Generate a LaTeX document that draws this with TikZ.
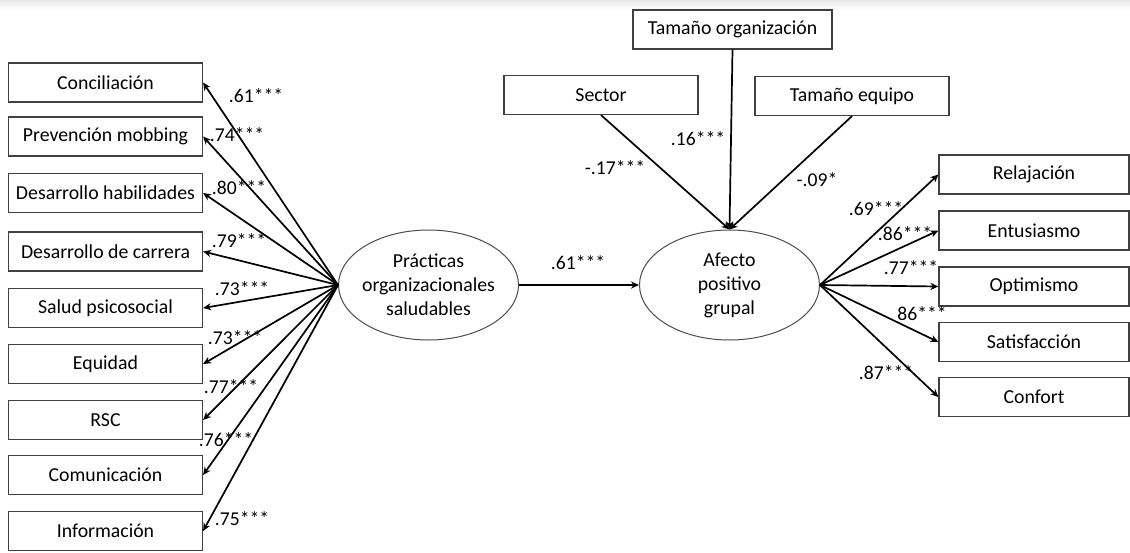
\documentclass[tikz,border=0pt]{standalone}
\usepackage{fontspec}
\setmainfont{Carlito}
\usetikzlibrary{arrows.meta,shapes.geometric,positioning}

\begin{document}
\begin{tikzpicture}[x=0.5pt, y=-0.5pt,
    box/.style={draw=black!75, line width=0.6pt, minimum width=97pt, minimum height=19.5pt, inner sep=0pt, align=center, font=\fontsize{9.9}{12}\selectfont},
    lat/.style={draw=black!70, ellipse, line width=0.5pt, minimum width=90pt, minimum height=55pt, inner xsep=-14pt, inner ysep=0pt, align=center, font=\fontsize{9.9}{12}\selectfont},
    arr/.style={-{Stealth[length=4pt, width=3.6pt]}, line width=0.85pt},
    lbl/.style={font=\fontsize{9.8}{11}\selectfont, inner sep=0pt}
]
\useasboundingbox (0,0) rectangle (1130,552);
\shade[top color=black!9, bottom color=white] (0,0) rectangle (1130,10);

% indicadores
\node[box] (conc) at (105.5,82.5) {Conciliación};
\node[box] (prev) at (105.5,136.5) {Prevención mobbing};
\node[box] (habil) at (105.5,193) {Desarrollo habilidades};
\node[box] (carr) at (105.5,251.5) {Desarrollo de carrera};
\node[box] (salud) at (105.5,308) {Salud psicosocial};
\node[box] (equi) at (105.5,364) {Equidad};
\node[box] (rsc) at (105.5,420) {RSC};
\node[box] (comu) at (105.5,475) {Comunicación};
\node[box] (info) at (105.5,531) {Información};

\node[lat] (pos) at (428.5,285) {Prácticas\\organizacionales\\saludables};
\node[lat] (apg) at (729.5,285) {Afecto\\positivo\\grupal};

% controles
\node[box, minimum width=99.5pt] (torg) at (732.5,29.5) {Tamaño organización};
\node[box] (sect) at (601,95) {Sector};
\node[box] (teq) at (852,96) {Tamaño equipo};

\node[box, minimum width=95pt] (rela) at (1034,174.5) {Relajación};
\node[box, minimum width=95pt] (entu) at (1034,230.5) {Entusiasmo};
\node[box, minimum width=95pt] (opti) at (1034,286.5) {Optimismo};
\node[box, minimum width=95pt] (sati) at (1034,342) {Satisfacción};
\node[box, minimum width=95pt] (conf) at (1034,397) {Confort};

\draw[arr] (pos.west) -- (conc.east);
\draw[arr] (pos.west) -- (prev.east);
\draw[arr] (pos.west) -- (habil.east);
\draw[arr] (pos.west) -- (carr.east);
\draw[arr] (pos.west) -- (salud.east);
\draw[arr] (pos.west) -- (equi.east);
\draw[arr] (pos.west) -- (rsc.east);
\draw[arr] (pos.west) -- (comu.east);
\draw[arr] (pos.west) -- (info.east);

\draw[arr] (pos.east) -- (apg.west);
\draw[arr] (sect.south) -- (apg.north);
\draw[arr] (torg.south) -- (apg.north);
\draw[arr] (teq.south) -- (apg.north);

\draw[arr] (apg.east) -- (rela.west);
\draw[arr] (apg.east) -- (entu.west);
\draw[arr] (apg.east) -- (opti.west);
\draw[arr] (apg.east) -- (sati.west);
\draw[arr] (apg.east) -- (conf.west);

% cargas
\node[lbl] (l1) at (256,96) {.61***};
\node[lbl] (l2) at (237,135) {.74***};
\node[lbl] (l3) at (239,188) {.80***};
\node[lbl] (l4) at (239,241) {.79***};
\node[lbl] (l5) at (242,289) {.73***};
\node[lbl] (l6) at (235,338) {.73***};
\node[lbl] (l7) at (231,387) {.77***};
\node[lbl] (l8) at (226,440) {.76***};
\node[lbl] (l9) at (242,519) {.75***};

\node[lbl] (b1) at (578,263) {.61***};
\node[lbl] (c1) at (615,168) {-.17***};
\node[lbl] (c2) at (698,139) {.16***};
\node[lbl] (c3) at (817,180) {-.09*};

\node[lbl] (r1) at (876,209) {.69***};
\node[lbl] (r2) at (905,234) {.86***};
\node[lbl] (r3) at (911,268) {.77***};
\node[lbl] (r4) at (922,314) {86***};
\node[lbl] (r5) at (886,373) {.87***};
\end{tikzpicture}
\end{document}
